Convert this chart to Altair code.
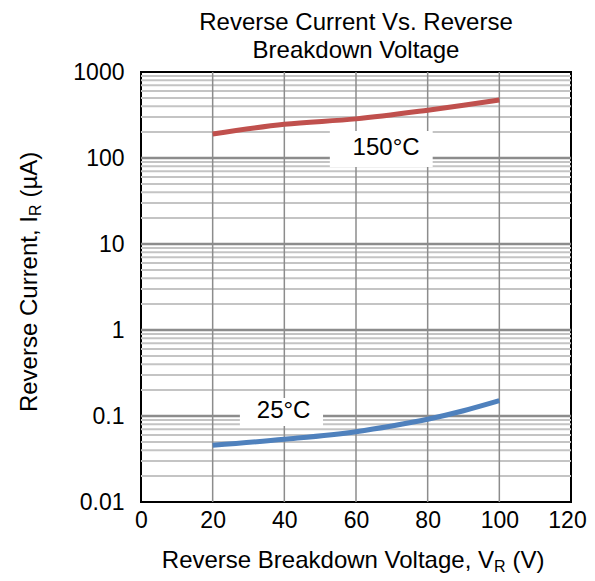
import altair as alt
import pandas as pd

# ---- data ----
volt_150 = [20, 40, 60, 80, 90, 100]
cur_150 = [190, 247, 285, 360, 410, 472]
volt_25 = [20, 40, 60, 70, 80, 90, 100]
cur_25 = [0.0456, 0.0536, 0.0657, 0.0765, 0.0916, 0.115, 0.1506]

x_ticks = [0, 20, 40, 60, 80, 100, 120]
y_ticks = [0.01, 0.1, 1, 10, 100, 1000]
x_grid = [20, 40, 60, 80, 100]
y_major = [0.1, 1, 10, 100]
decades = [0.01, 0.1, 1, 10, 100]
y_minor = [d * m for d in decades for m in range(2, 10)]

labels = ["150°C", "25°C"]
label_x = [68.4, 39.8]
label_y = [129, 0.114]
box_x1 = [52.7, 27.6]
box_x2 = [81.4, 50.8]
box_y1 = [78.5, 0.0765]
box_y2 = [206, 0.162]

FONT = "Liberation Sans"
RED = "#C0504D"
BLUE = "#4F81BD"

lines = pd.DataFrame(
    {"V": volt_150 + volt_25,
     "I": cur_150 + cur_25,
     "series": ["150°C"] * len(volt_150) + ["25°C"] * len(volt_25)}
)
ann = pd.DataFrame({"label": labels, "x": label_x, "y": label_y,
                    "x1": box_x1, "x2": box_x2, "y1": box_y1, "y2": box_y2})

xs = alt.Scale(domain=[0, 120], nice=False, zero=False)
ys = alt.Scale(type="log", domain=[0.01, 1000], nice=False)

x_axis = alt.Axis(values=x_ticks, grid=False, ticks=False, domain=False,
                  labelFont=FONT, labelFontSize=23, labelColor="black",
                  labelPadding=7, title=None, labelFlush=False,
                  labelOffset={"condition": {"test": "datum.value === 120", "value": -4},
                               "value": 0})
y_axis = alt.Axis(values=y_ticks, grid=False, ticks=False, domain=False,
                  labelFont=FONT, labelFontSize=23, labelColor="black",
                  labelPadding=17, title=None, format="~g")

minor = alt.Chart(pd.DataFrame({"v": y_minor})).mark_rule(
    color="#C4C4C4", strokeWidth=2).encode(y=alt.Y("v:Q", scale=ys, axis=y_axis))
major = alt.Chart(pd.DataFrame({"v": y_major})).mark_rule(
    color="#8C8C8C", strokeWidth=2.5).encode(y=alt.Y("v:Q", scale=ys, axis=y_axis))
vgrid = alt.Chart(pd.DataFrame({"v": x_grid})).mark_rule(
    color="#8C8C8C", strokeWidth=1.5).encode(x=alt.X("v:Q", scale=xs, axis=x_axis))

boxes = alt.Chart(ann).mark_rect(fill="white").encode(
    x=alt.X("x1:Q", scale=xs, axis=x_axis), x2="x2:Q",
    y=alt.Y("y1:Q", scale=ys, axis=y_axis), y2="y2:Q")

line = alt.Chart(lines).mark_line(strokeWidth=5, interpolate="monotone").encode(
    x=alt.X("V:Q", scale=xs, axis=x_axis),
    y=alt.Y("I:Q", scale=ys, axis=y_axis),
    color=alt.Color("series:N", scale=alt.Scale(domain=["150°C", "25°C"], range=[RED, BLUE]),
                    legend=None),
    detail="series:N")

text = alt.Chart(ann).mark_text(font=FONT, fontSize=24, color="black",
                                align="center", baseline="middle").encode(
    x=alt.X("x:Q", scale=xs, axis=x_axis),
    y=alt.Y("y:Q", scale=ys, axis=y_axis),
    text="label:N")

# axis titles with subscript R
one = pd.DataFrame({"k": [0]})
def txt(s, x, y, size, align, angle=0):
    return alt.Chart(one).mark_text(text=s, font=FONT, fontSize=size, color="black",
                                    align=align, baseline="alphabetic", angle=angle).encode(
        x=alt.value(x), y=alt.value(y))

XA = 353
xt = [txt("Reverse Breakdown Voltage, V", XA, 496, 24, "right"),
      txt("R", XA, 500, 16, "left"),
      txt("(V)", XA + 18.5, 496, 24, "left")]
YA = 144
yt = [txt("Reverse Current, I", -104, YA, 24, "right", 270),
      txt("R", -100, YA, 16, "left", 270),
      txt("(µA)", -104, YA - 18.5, 24, "left", 270)]

chart = alt.layer(minor, major, vgrid, boxes, line, text, *xt, *yt).properties(
    width=430, height=430,
    title=alt.TitleParams(text=["Reverse Current Vs. Reverse", "Breakdown Voltage"],
                          font=FONT, fontSize=24, fontWeight="normal", color="black",
                          anchor="middle", frame="group", offset=-2, lineHeight=28),
    autosize=alt.AutoSizeParams(type="none"),
    padding={"left": 133, "top": 64, "right": 16, "bottom": 79},
    background="white",
).configure_view(stroke="black", strokeWidth=2)

chart.save("out.html", embed_options={"renderer": "svg", "actions": False})
